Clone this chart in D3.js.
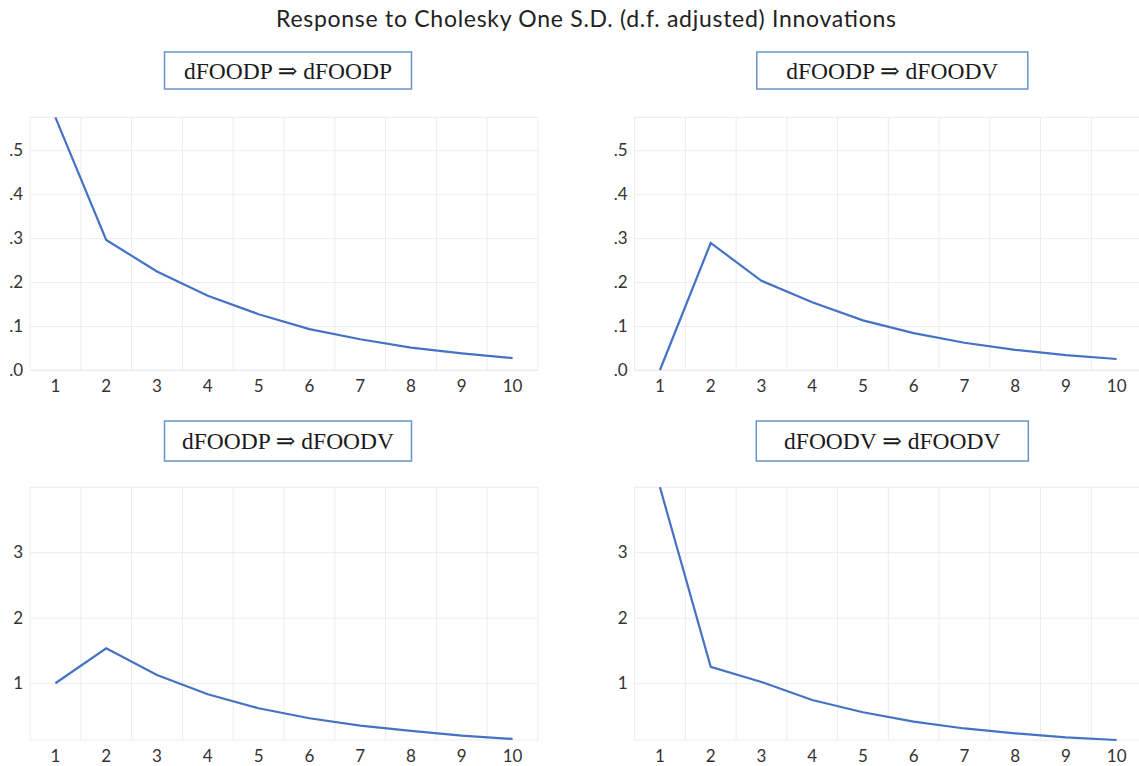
<!DOCTYPE html>
<html>
<head>
<meta charset="utf-8">
<script src="https://cdn.jsdelivr.net/npm/d3@7/dist/d3.min.js"></script>
<style>
	html, body {
		margin: 0;
		padding: 0;
		background: white;
	}
	svg {
		display: block;
		overflow: hidden;
	}
	.tick text {
		font-family: Lato, "Open Sans", sans-serif;
		font-size: 17px;
		fill: #333;
	}
</style>
</head>
<body>
<div id="chart"></div>
<script>
	// data
	var periods = [1, 2, 3, 4, 5, 6, 7, 8, 9, 10];
	var foodpToFoodp = [0.575, 0.296, 0.224, 0.169, 0.127, 0.093, 0.070, 0.051, 0.038, 0.027];
	var foodpToFoodvTop = [0.0, 0.289, 0.203, 0.154, 0.113, 0.084, 0.062, 0.046, 0.034, 0.025];
	var foodpToFoodv = [1.0, 1.534, 1.127, 0.832, 0.618, 0.466, 0.353, 0.272, 0.200, 0.150];
	var foodvToFoodv = [3.99, 1.25, 1.02, 0.745, 0.557, 0.414, 0.310, 0.236, 0.175, 0.134];
	var panelTitles = ["dFOODP \u21D2 dFOODP", "dFOODP \u21D2 dFOODV", "dFOODP \u21D2 dFOODV", "dFOODV \u21D2 dFOODV"];
	var topTicks = [0, 0.1, 0.2, 0.3, 0.4, 0.5];
	var bottomTicks = [1, 2, 3];
	var mainTitle = "Response to Cholesky One S.D. (d.f. adjusted) Innovations";

	var width = 1139, height = 766;

	var svg = d3.select("#chart").append("svg")
		.attr("width", width)
		.attr("height", height);

	// layout of the 2x2 grid
	var cols = [[30, 538], [634.6, 1142]];
	var rows = [[117.3, 370], [487.3, 740]];
	var boxRows = [[52, 89], [421, 461]];
	var boxWidths = [247, 271, 247, 272];

	var topExtent = d3.extent(foodpToFoodp.concat(foodpToFoodvTop));
	var bottomExtent = d3.extent(foodpToFoodv.concat(foodvToFoodv));

	var panels = [
		{values: foodpToFoodp, col: 0, row: 0, extent: topExtent, ticks: topTicks},
		{values: foodpToFoodvTop, col: 1, row: 0, extent: topExtent, ticks: topTicks},
		{values: foodpToFoodv, col: 0, row: 1, extent: bottomExtent, ticks: bottomTicks},
		{values: foodvToFoodv, col: 1, row: 1, extent: bottomExtent, ticks: bottomTicks}
	];

	var dotFormat = function(d) {
		return d3.format(".1f")(d).replace(/^0/, "");
	};

	svg.append("text")
		.attr("x", 586)
		.attr("y", 27)
		.attr("text-anchor", "middle")
		.attr("textLength", 620)
		.attr("lengthAdjust", "spacing")
		.style("font-family", "Lato, 'Open Sans', sans-serif")
		.style("font-size", "23px")
		.style("fill", "#222")
		.text(mainTitle);

	panels.forEach(function(p, i) {
		var xr = cols[p.col], yr = rows[p.row];
		var x = d3.scaleBand().domain(periods).range(xr);
		var y = d3.scaleLinear().domain(p.extent).range([yr[1], yr[0]]);
		var g = svg.append("g");

		// vertical grid at band edges
		var edges = periods.map(function(d) { return x(d); }).concat([xr[1]]);
		g.selectAll(".vgrid")
			.data(edges)
			.enter().append("line")
			.attr("x1", function(d) { return d; })
			.attr("x2", function(d) { return d; })
			.attr("y1", yr[0])
			.attr("y2", yr[1])
			.attr("stroke", "#ececec")
			.attr("stroke-width", 1);

		// frame top / bottom
		g.selectAll(".hframe")
			.data([yr[0], yr[1]])
			.enter().append("line")
			.attr("x1", xr[0])
			.attr("x2", xr[1])
			.attr("y1", function(d) { return d; })
			.attr("y2", function(d) { return d; })
			.attr("stroke", "#ececec");

		var yAxis = d3.axisLeft(y)
			.tickValues(p.ticks)
			.tickSize(-(xr[1] - xr[0]))
			.tickPadding(7)
			.tickFormat(p.row === 0 ? dotFormat : d3.format("d"));

		var ya = g.append("g")
			.attr("transform", "translate(" + xr[0] + ",0)")
			.call(yAxis);
		ya.select(".domain").remove();
		ya.selectAll(".tick line").attr("stroke", "#ececec");

		var xAxis = d3.axisBottom(x).tickSize(0).tickPadding(10);
		var xa = g.append("g")
			.attr("transform", "translate(0," + yr[1] + ")")
			.call(xAxis);
		xa.select(".domain").remove();

		var line = d3.line()
			.x(function(d, j) { return x(periods[j]) + x.bandwidth() / 2; })
			.y(function(d) { return y(d); });

		g.append("path")
			.datum(p.values)
			.attr("d", line)
			.attr("fill", "none")
			.attr("stroke", "#4472C4")
			.attr("stroke-width", 2.2);

		// title box
		var by = boxRows[p.row];
		var cx = (xr[0] + xr[1]) / 2 + 4;
		var bw = boxWidths[i];
		g.append("rect")
			.attr("x", cx - bw / 2)
			.attr("y", by[0])
			.attr("width", bw)
			.attr("height", by[1] - by[0])
			.attr("fill", "white")
			.attr("stroke", "#6a94c4")
			.attr("stroke-width", 1.5);
		g.append("text")
			.attr("x", cx)
			.attr("y", (by[0] + by[1]) / 2 + 8)
			.attr("text-anchor", "middle")
			.style("font-family", "'Liberation Serif', 'DejaVu Serif', serif")
			.style("font-size", "23.5px")
			.style("fill", "#1a1a1a")
			.text(panelTitles[i]);
	});
</script>
</body>
</html>
